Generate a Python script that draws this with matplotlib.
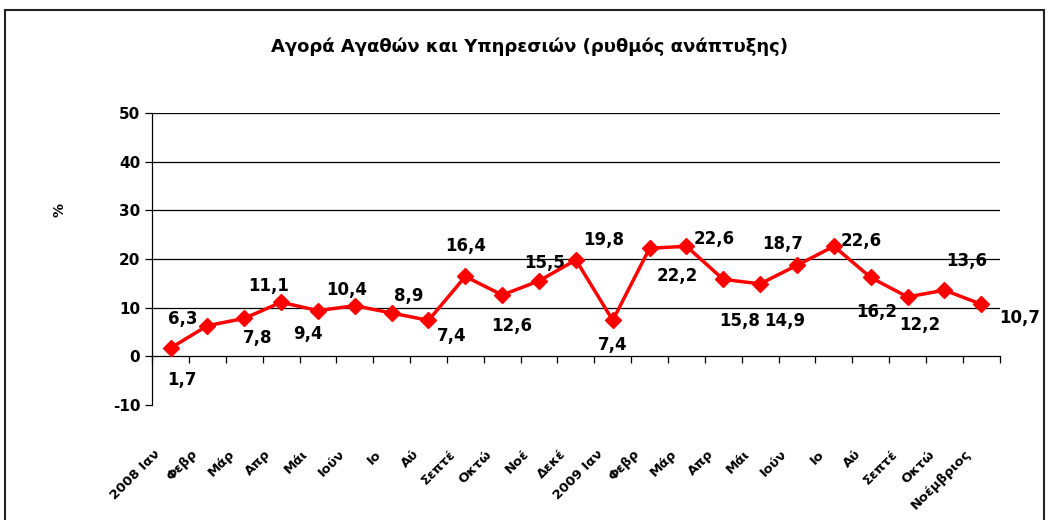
import matplotlib.pyplot as plt
import matplotlib.transforms as mtransforms
from matplotlib.patches import Rectangle
import numpy as np

plt.rcParams['font.family'] = ['DejaVu Sans']
plt.rcParams['axes.unicode_minus'] = False

# data
months = ['2008 Ιαν', 'Φεβρ', 'Μάρ', 'Απρ', 'Μάι', 'Ιούν', 'Ιο', 'Αύ', 'Σεπτέ',
          'Οκτώ', 'Νοέ', 'Δεκέ', '2009 Ιαν', 'Φεβρ', 'Μάρ', 'Απρ', 'Μάι', 'Ιούν',
          'Ιο', 'Αύ', 'Σεπτέ', 'Οκτώ', 'Νοέμβριος']
growth = [1.7, 6.3, 7.8, 11.1, 9.4, 10.4, 8.9, 7.4, 16.4, 12.6, 15.5, 19.8,
          7.4, 22.2, 22.6, 15.8, 14.9, 18.7, 22.6, 16.2, 12.2, 13.6, 10.7]

# label offsets (points) for the value labels
label_dx = [8, -18, 10, -9, -7, -6, 12, 17, 0, 7, 4, 20, 0, 20, 20, 12, 18, -10, 20, 4, 9, 16, 28]
label_dy = [-23, 5, -14, 12, -17, 11, 12, -11, 22, -22, 13, 14, -18, -20, 5, -30, -27, 15, 4, -25, -20, 21, -10]

fig = plt.figure(figsize=(10.49, 5.2), dpi=100)
ax = fig.add_axes([0.145, 0.221, 0.808, 0.562])

x = np.arange(len(growth))
ax.plot(x, growth, color='#FF0000', linewidth=2.5, marker='D', markersize=8, zorder=5)

for i, v in enumerate(growth):
    ax.annotate(f'{v:.1f}'.replace('.', ','), xy=(i, v),
                xytext=(label_dx[i], label_dy[i]), textcoords='offset points',
                ha='center', va='center', fontsize=12, fontweight='bold')

ax.set_ylim(-10, 50)
ax.set_xlim(-0.5, len(growth) - 0.5)
ax.set_yticks(np.arange(-10, 51, 10))
for yv in range(10, 51, 10):
    ax.axhline(yv, color='black', linewidth=0.9, zorder=1)

for s in ['top', 'right']:
    ax.spines[s].set_visible(False)
ax.spines['bottom'].set_position(('data', 0))
ax.spines['bottom'].set_linewidth(0.9)
ax.spines['left'].set_linewidth(0.9)

ax.tick_params(axis='y', labelsize=11, length=5, width=0.9)
for lab in ax.get_yticklabels():
    lab.set_fontweight('bold')

ax.set_xticks(np.arange(-0.5, len(growth), 1), minor=True)
ax.set_xticks(x)
ax.tick_params(axis='x', which='minor', length=5, width=0.9, direction='out')
ax.tick_params(axis='x', which='major', length=0, pad=69)
ax.set_xticklabels(months, rotation=45, ha='right', va='center',
                   rotation_mode='anchor', fontsize=9.5, fontweight='bold')
shift = mtransforms.ScaledTranslation(-12 / 100, 0, fig.dpi_scale_trans)
for lab in ax.get_xticklabels():
    lab.set_transform(lab.get_transform() + shift)

fig.text(60 / 1049, 1 - 210 / 520, '%', rotation=90, ha='center', va='center',
         fontsize=10, fontweight='bold')

fig.text(0.505, 0.91, 'Αγορά Αγαθών και Υπηρεσιών (ρυθμός ανάπτυξης)',
         ha='center', va='center', fontsize=13, fontweight='bold')

fig.patches.append(Rectangle((0.005, -0.1), 0.99, 1.08, transform=fig.transFigure,
                             fill=False, edgecolor='#222222', linewidth=1.5))

fig.savefig('out.png', dpi=100)
